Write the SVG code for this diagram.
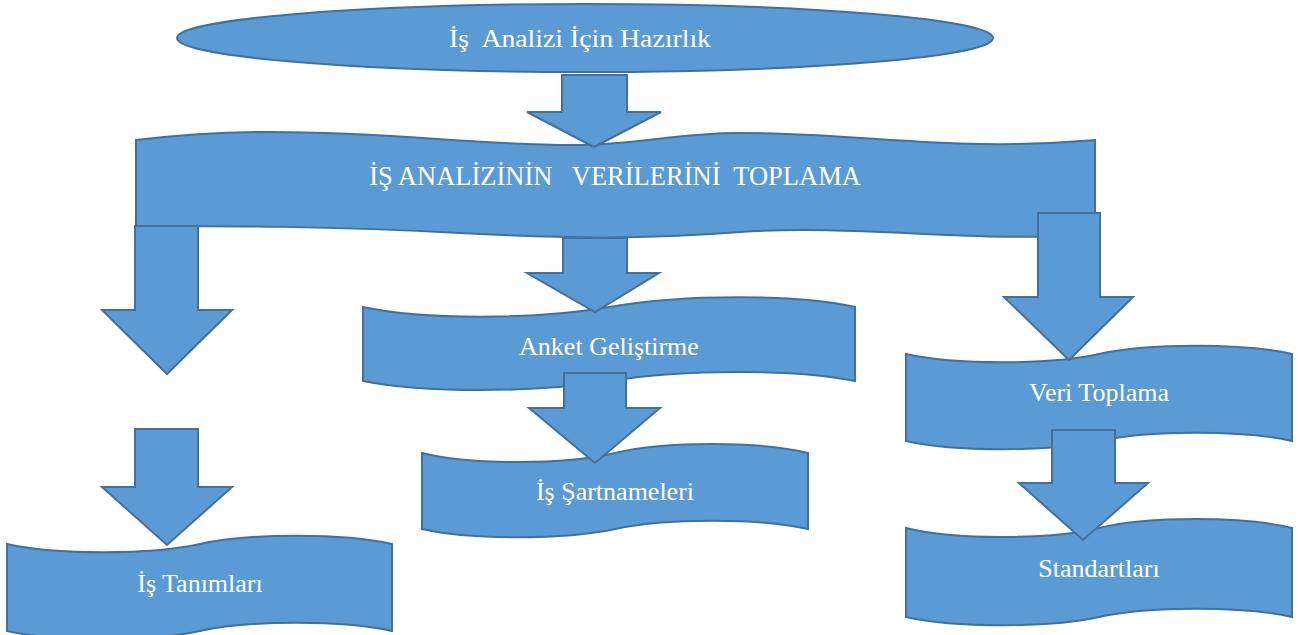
<svg xmlns="http://www.w3.org/2000/svg" width="1298" height="635" viewBox="0 0 1298 635">
<style>
.s{fill:#5B9BD5;stroke:#41719C;stroke-width:2;stroke-linejoin:miter}
.t{font-family:"Liberation Serif","Times New Roman",serif;fill:#FFFFFF;text-anchor:middle;white-space:pre}
</style>
<rect width="1298" height="635" fill="#FFFFFF"/>
<g id="node-hazirlik">
<ellipse class="s" cx="585" cy="38" rx="408" ry="34"/>
<text class="t" x="580" y="47" font-size="26" textLength="262" lengthAdjust="spacingAndGlyphs">İş  Analizi İçin Hazırlık</text>
</g>
<g id="node-toplama">
<path class="s" d="M136,140 C180,135 220,132 270,132 C400,132 480,146 580,145 C640,144 680,133 740,133 C830,133 900,143 980,144 C1040,145 1070,142 1095,140 L1095,234 C980,244 860,224 740,232 C640,240 560,238 460,233 C330,226 220,226 136,226 Z"/>
<text class="t" x="615" y="185" font-size="26.5">İŞ ANALİZİNİN   VERİLERİNİ  TOPLAMA</text>
</g>
<g id="node-anket">
<path class="s" d="M363,307 C423,320 533,320 609,307 C685,294 795,294 855,307 L855,381 C795,369 685,369 609,381 C533,393 423,393 363,381 Z"/>
<text class="t" x="609" y="355" font-size="26">Anket Geliştirme</text>
</g>
<g id="node-sartname">
<path class="s" d="M422,453 C470,465 565,465 615,453 C665,441 760,441 808,453 L808,529 C760,518 665,518 615,529 C565,540 470,540 422,529 Z"/>
<text class="t" x="615" y="500" font-size="26">İş Şartnameleri</text>
</g>
<g id="node-veri">
<path class="s" d="M906,354 C954,365 1050,365 1099,354 C1148,343 1244,343 1292,354 L1292,441 C1244,430 1148,430 1099,441 C1050,452 954,452 906,441 Z"/>
<text class="t" x="1099" y="401" font-size="26">Veri Toplama</text>
</g>
<g id="node-tanim">
<path class="s" d="M7,544 C55,555 151,555 200,544 C249,533 344,533 392,544 L392,631 C344,620 249,620 200,631 C151,642 55,642 7,631 Z"/>
<text class="t" x="200" y="592" font-size="26">İş Tanımları</text>
</g>
<g id="node-standart">
<path class="s" d="M906,528 C954,540 1050,540 1099,528 C1148,516 1244,516 1292,528 L1292,617 C1244,606 1148,606 1099,617 C1050,628 954,628 906,617 Z"/>
<text class="t" x="1099" y="577" font-size="26">Standartları</text>
</g>
<g id="connectors">
<path class="s" d="M562,75 L627,75 L627,112 L661,112 L594,147 L527,112 L562,112 Z"/>
<path class="s" d="M135,226 L198,226 L198,310 L232,310 L167,374 L102,310 L135,310 Z"/>
<path class="s" d="M135,429 L198,429 L198,487 L232,487 L167,545 L102,487 L135,487 Z"/>
<path class="s" d="M563,238 L627,238 L627,273 L659,273 L595,312 L527,273 L563,273 Z"/>
<path class="s" d="M564,373 L626,373 L626,408 L660,408 L595,463 L529,408 L564,408 Z"/>
<path class="s" d="M1038,213 L1100,213 L1100,297 L1133,297 L1069,360 L1004,297 L1038,297 Z"/>
<path class="s" d="M1052,430 L1115,430 L1115,483 L1148,483 L1083,540 L1019,483 L1052,483 Z"/>
</g>
</svg>
